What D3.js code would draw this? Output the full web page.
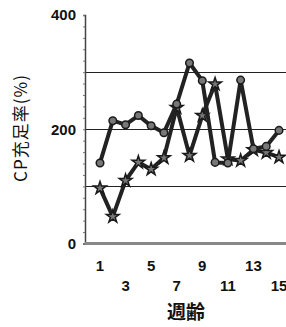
<!DOCTYPE html>
<html><head><meta charset="utf-8">
<script src="https://cdn.jsdelivr.net/npm/d3@7/dist/d3.min.js"></script>
<style>body{margin:0;background:#fff}svg{display:block}</style>
</head><body>
<svg id="c" width="286" height="327"></svg>
<script>
const weeks = [1,2,3,4,5,6,7,8,9,10,11,12,13,14,15];
const circleSeries = [141,215,208,224,206,194,244,316,285,142,141,286,166,170,198];
const starSeries = [97,47,110,142,130,150,238,154,224,279,148,145,164,159,151];
const yTickLabels = [0,200,400];
const gridValues = [100,200,300];
const xTickLabels = [1,3,5,7,9,11,13,15];
const yTitle = "CP充足率(%)";
const xTitle = "週齢";

const svg = d3.select("#c");
const x = d3.scalePoint().domain(weeks).range([100, 279]);
const y = d3.scaleLinear().domain([0,400]).range([243.5, 15]);
const axisX = 85;

// gridlines
svg.append("g").selectAll("line").data(gridValues).join("line")
  .attr("x1", axisX).attr("x2", 286)
  .attr("y1", d => Math.round(y(d))+0.5).attr("y2", d => Math.round(y(d))+0.5)
  .attr("stroke", "#222").attr("stroke-width", 1);

// y axis
const ya = svg.append("g").attr("transform", `translate(${axisX},0)`)
  .call(d3.axisLeft(y).tickValues(d3.range(0,401,20)).tickSize(2).tickFormat(""));
ya.select(".domain").attr("stroke", "#444").attr("stroke-width", 1.5);
ya.selectAll(".tick line").attr("stroke", "#777");

// y tick labels
svg.append("g").selectAll("text").data(yTickLabels).join("text")
  .attr("x", 76).attr("y", d => y(d)).attr("dy", "0.35em")
  .attr("text-anchor", "end")
  .attr("font-family", "Liberation Sans, Arial, sans-serif")
  .attr("font-weight", "bold").attr("font-size", 15)
  .attr("fill", "#111").text(d => d);

// x axis baseline
svg.append("line").attr("x1", axisX).attr("x2", 286)
  .attr("y1", y(0)).attr("y2", y(0))
  .attr("stroke", "#888").attr("stroke-width", 3);

// x tick labels staggered
svg.append("g").selectAll("text").data(xTickLabels).join("text")
  .attr("x", d => x(d)).attr("y", (d,i) => i % 2 === 0 ? 271 : 291)
  .attr("text-anchor", "middle")
  .attr("font-family", "Liberation Sans, Arial, sans-serif")
  .attr("font-weight", "bold").attr("font-size", 15)
  .attr("fill", "#111").text(d => d);

// titles
svg.append("text").attr("transform", `translate(27,128) rotate(-90)`)
  .attr("text-anchor", "middle")
  .attr("font-family", "Noto Sans CJK JP, sans-serif")
  .attr("font-size", 17).attr("letter-spacing", 1).attr("fill", "#111").text(yTitle);
svg.append("text").attr("x", 186).attr("y", 319)
  .attr("text-anchor", "middle")
  .attr("font-family", "Noto Sans CJK JP, sans-serif")
  .attr("font-weight", "bold").attr("font-size", 19)
  .attr("fill", "#111").text(xTitle);

const line = d3.line().x((d,i) => x(weeks[i])).y(d => y(d));

function drawSeries(vals, sym, size) {
  svg.append("path").datum(vals).attr("d", line)
    .attr("fill", "none").attr("stroke", "#222").attr("stroke-width", 4)
    .attr("stroke-linejoin", "round");
  svg.append("g").selectAll("path").data(vals).join("path")
    .attr("transform", (d,i) => `translate(${x(weeks[i])},${y(d)})`)
    .attr("d", d3.symbol().type(sym).size(size))
    .attr("fill", "#777").attr("stroke", "#1a1a1a").attr("stroke-width", 1.5);
}
drawSeries(starSeries, d3.symbolStar, 50);
drawSeries(circleSeries, d3.symbolCircle, 45);
</script>
</body></html>
